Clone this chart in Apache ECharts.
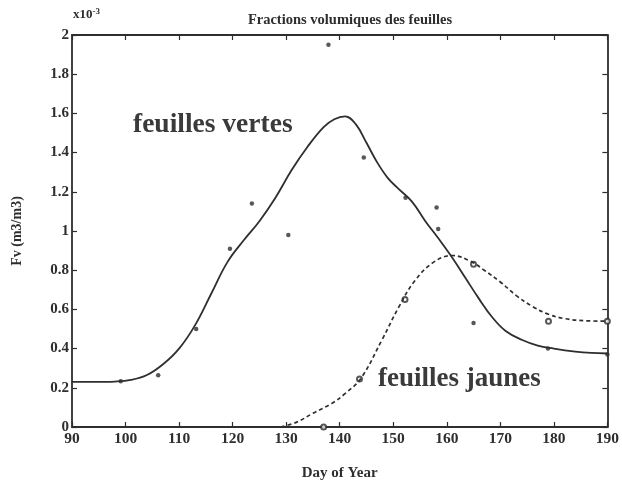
<!DOCTYPE html>
<html>
<head>
<meta charset="utf-8">
<script src="https://cdn.jsdelivr.net/npm/echarts@6/dist/echarts.min.js"></script>
<style>
  html, body { margin: 0; padding: 0; background: #fff; }
  #chart { width: 622px; height: 486px; }
</style>
</head>
<body>
<div id="chart"></div>
<script>
// Leaf volume fraction (units of 1e-3 m3/m3) against day of year
const xTicks = [90, 100, 110, 120, 130, 140, 150, 160, 170, 180, 190];
const yTicks = [0, 0.2, 0.4, 0.6, 0.8, 1, 1.2, 1.4, 1.6, 1.8, 2];

// Fitted curve, green leaves
const greenCurveDays = [90, 94, 98, 101, 104, 107, 110, 113, 116, 119, 122, 125, 128, 131, 134, 137, 139, 141, 143, 145, 147, 149, 151, 153.5, 156, 158.5, 161, 163.5, 166, 168.5, 171, 174, 177, 180, 184, 187, 190];
const greenCurveFv   = [0.23, 0.23, 0.232, 0.24, 0.265, 0.32, 0.40, 0.52, 0.68, 0.84, 0.95, 1.05, 1.17, 1.31, 1.43, 1.53, 1.57, 1.585, 1.545, 1.45, 1.35, 1.27, 1.215, 1.15, 1.05, 0.96, 0.865, 0.76, 0.655, 0.56, 0.49, 0.445, 0.415, 0.40, 0.385, 0.378, 0.375];

// Fitted curve, yellow leaves
const yellowCurveDays = [129, 132, 135, 138.5, 141, 144, 148, 151, 154, 157.5, 161, 164.5, 167, 170, 173, 176, 179, 182, 186, 190];
const yellowCurveFv   = [0, 0.025, 0.07, 0.12, 0.17, 0.25, 0.45, 0.61, 0.745, 0.84, 0.875, 0.845, 0.80, 0.74, 0.67, 0.615, 0.575, 0.553, 0.542, 0.54];

// Measurements, green leaves
const greenObsDays = [99.1, 106.1, 113.2, 119.5, 123.6, 130.4, 137.9, 144.5, 152.3, 158.1, 158.4, 165, 178.9, 190];
const greenObsFv   = [0.234, 0.264, 0.50, 0.91, 1.14, 0.98, 1.95, 1.375, 1.17, 1.12, 1.01, 0.53, 0.40, 0.37];

// Measurements, yellow leaves
const yellowObsDays = [137, 143.7, 152.2, 165, 179, 190];
const yellowObsFv   = [0.0, 0.245, 0.65, 0.83, 0.54, 0.54];

const zip = (a, b) => a.map((v, i) => [v, b[i]]);

const ink = '#2e2e2e';
const serif = '"Liberation Serif", "DejaVu Serif", serif';

const chart = echarts.init(document.getElementById('chart'));

const axisBase = {
  type: 'value',
  axisLine: { show: true, onZero: false, lineStyle: { color: ink, width: 1.8 } },
  axisTick: { show: true, inside: true, length: 5, lineStyle: { color: ink, width: 1.2 } },
  splitLine: { show: false }
};

chart.setOption({
  animation: false,
  backgroundColor: '#ffffff',
  grid: { left: 72, right: 13, top: 35, bottom: 56, containLabel: false },
  title: {
    text: 'Fractions volumiques des feuilles',
    left: 345, top: 8, textAlign: 'center',
    textStyle: { fontFamily: serif, fontWeight: 'bold', fontSize: 14.5, color: ink }
  },
  xAxis: [
    Object.assign({}, axisBase, {
      min: xTicks[0], max: xTicks[xTicks.length - 1], interval: 10,
      position: 'bottom',
      name: 'Day of Year', nameLocation: 'middle', nameGap: 39,
      nameTextStyle: { fontFamily: serif, fontWeight: 'bold', fontSize: 15, color: ink },
      axisLabel: { color: ink, fontFamily: serif, fontWeight: 'bold', fontSize: 15.5, margin: 4 }
    }),
    Object.assign({}, axisBase, {
      min: xTicks[0], max: xTicks[xTicks.length - 1], interval: 10,
      position: 'top', axisLabel: { show: false }
    })
  ],
  yAxis: [
    Object.assign({}, axisBase, {
      min: yTicks[0], max: yTicks[yTicks.length - 1], interval: 0.2,
      position: 'left',
      name: 'Fv (m3/m3)', nameLocation: 'middle', nameGap: 48, nameRotate: 90,
      nameTextStyle: { fontFamily: serif, fontWeight: 'bold', fontSize: 14, color: ink },
      axisLabel: {
        color: ink, fontFamily: serif, fontWeight: 'bold', fontSize: 15, margin: 3,
        formatter: v => String(Math.round(v * 10) / 10)
      }
    }),
    Object.assign({}, axisBase, {
      min: yTicks[0], max: yTicks[yTicks.length - 1], interval: 0.2,
      position: 'right', axisLabel: { show: false }
    })
  ],
  graphic: [
    {
      type: 'text', left: 73, top: 7,
      style: {
        text: '{b|x10}{s|-3}',
        rich: {
          b: { fontFamily: serif, fontWeight: 'bold', fontSize: 13, fill: ink },
          s: { fontFamily: serif, fontWeight: 'bold', fontSize: 9, fill: ink, verticalAlign: 'top', padding: [0, 0, 7, 0] }
        }
      }
    },
    {
      type: 'text', left: 133, top: 111,
      style: { text: 'feuilles vertes', fontFamily: serif, fontWeight: 'bold', fontSize: 27.5, fill: '#3a3a3a' }
    },
    {
      type: 'text', left: 378, top: 366,
      style: { text: 'feuilles jaunes', fontFamily: serif, fontWeight: 'bold', fontSize: 27, fill: '#3a3a3a' }
    }
  ],
  series: [
    {
      name: 'vertes (ajustement)', type: 'line', smooth: 0.4, showSymbol: false,
      data: zip(greenCurveDays, greenCurveFv),
      lineStyle: { color: ink, width: 1.8 }
    },
    {
      name: 'jaunes (ajustement)', type: 'line', smooth: 0.4, showSymbol: false,
      data: zip(yellowCurveDays, yellowCurveFv),
      lineStyle: { color: ink, width: 1.7, type: [4, 3] }
    },
    {
      name: 'vertes', type: 'scatter', symbol: 'circle', symbolSize: 4.5,
      data: zip(greenObsDays, greenObsFv),
      itemStyle: { color: ink }
    },
    {
      name: 'jaunes', type: 'scatter', symbol: 'emptyCircle', symbolSize: 5,
      data: zip(yellowObsDays, yellowObsFv),
      itemStyle: { color: ink, borderColor: ink, borderWidth: 1.2 }
    }
  ]
});
</script>
</body>
</html>
